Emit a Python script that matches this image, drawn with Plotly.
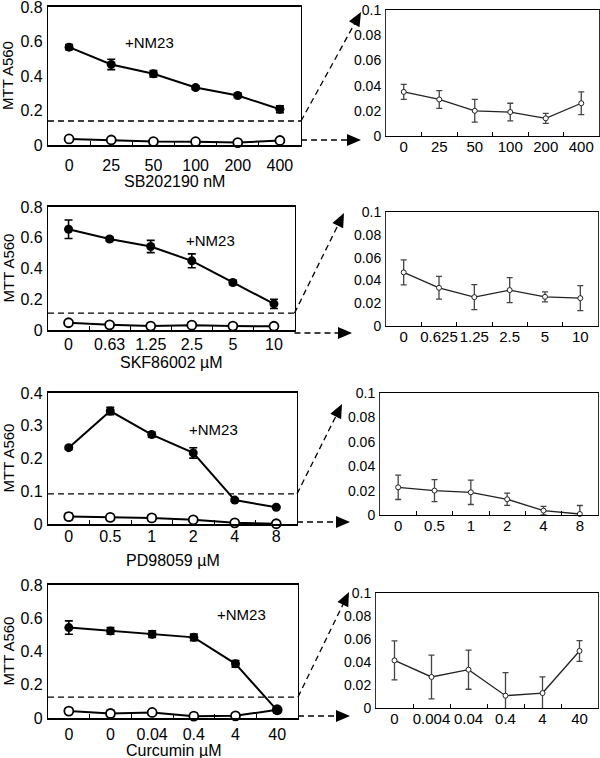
import math
import plotly.graph_objects as go

# ---------------- data ----------------
sb_labels = ["0", "25", "50", "100", "200", "400"]
sb_nm23 = [0.567, 0.467, 0.413, 0.333, 0.287, 0.207]
sb_nm23_err = [0.015, 0.03, 0.018, 0.01, 0.012, 0.02]
sb_ctrl = [0.035, 0.029, 0.020, 0.019, 0.014, 0.026]
sb_ctrl_err = [0.006, 0.007, 0.009, 0.007, 0.004, 0.009]
sb_threshold = 0.139

skf_labels_left = ["0", "0.63", "1.25", "2.5", "5", "10"]
skf_labels_right = ["0", "0.625", "1.25", "2.5", "5", "10"]
skf_nm23 = [0.655, 0.592, 0.543, 0.450, 0.309, 0.170]
skf_nm23_err = [0.06, 0.012, 0.04, 0.045, 0.015, 0.03]
skf_ctrl = [0.047, 0.0335, 0.0253, 0.0315, 0.0256, 0.0244]
skf_ctrl_err = [0.011, 0.010, 0.011, 0.011, 0.0044, 0.011]
skf_threshold = 0.11

pd_labels = ["0", "0.5", "1", "2", "4", "8"]
pd_nm23 = [0.233, 0.345, 0.273, 0.217, 0.073, 0.051]
pd_nm23_err = [0.005, 0.011, 0.008, 0.016, 0.005, 0.003]
pd_ctrl = [0.0227, 0.020, 0.0186, 0.0129, 0.0036, 0.0008]
pd_ctrl_err = [0.010, 0.009, 0.010, 0.005, 0.0035, 0.007]
pd_threshold = 0.092

cur_labels_left = ["0", "0", "0.04", "0.4", "4", "40"]
cur_labels_right = ["0", "0.004", "0.04", "0.4", "4", "40"]
cur_nm23 = [0.544, 0.524, 0.504, 0.485, 0.326, 0.046]
cur_nm23_err = [0.04, 0.02, 0.02, 0.02, 0.02, 0.015]
cur_ctrl = [0.0414, 0.027, 0.0333, 0.0107, 0.013, 0.0496]
cur_ctrl_err = [0.017, 0.019, 0.017, 0.02, 0.014, 0.009]
cur_threshold = 0.126

x_titles = ["SB202190 nM", "SKF86002 µM", "PD98059 µM", "Curcumin µM"]
y_title = "MTT A560"
nm23_label = "+NM23"

# ---------------- layout geometry (pixels) ----------------
W, H = 600, 758
FONT = "Liberation Sans, Arial, sans-serif"

rows = [
    dict(labels_l=sb_labels, labels_r=sb_labels, nm=sb_nm23, nm_e=sb_nm23_err,
         c=sb_ctrl, c_e=sb_ctrl_err, thr=sb_threshold, ymax=0.8, dt=0.2,
         L=(48, 301, 145, 7), R=(386, 599, 136, 10), xstand=5, xtitle_y=182,
         lab=(149, 42), up_tip=(361, 12), low_y=140, low_tip=361),
    dict(labels_l=skf_labels_left, labels_r=skf_labels_right, nm=skf_nm23, nm_e=skf_nm23_err,
         c=skf_ctrl, c_e=skf_ctrl_err, thr=skf_threshold, ymax=0.8, dt=0.2,
         L=(48, 294.5, 330, 207), R=(386, 598, 326, 212), xstand=-1, xtitle_y=363,
         lab=(210, 240), up_tip=(344, 213), low_y=333, low_tip=352),
    dict(labels_l=pd_labels, labels_r=pd_labels, nm=pd_nm23, nm_e=pd_nm23_err,
         c=pd_ctrl, c_e=pd_ctrl_err, thr=pd_threshold, ymax=0.4, dt=0.1,
         L=(48, 297, 524, 393), R=(380, 598, 515, 393), xstand=-3, xtitle_y=560,
         lab=(213, 429), up_tip=(342, 404), low_y=522, low_tip=350),
    dict(labels_l=cur_labels_left, labels_r=cur_labels_right, nm=cur_nm23, nm_e=cur_nm23_err,
         c=cur_ctrl, c_e=cur_ctrl_err, thr=cur_threshold, ymax=0.8, dt=0.2,
         L=(48, 298, 718, 585), R=(376, 598, 708, 593), xstand=1, xtitle_y=750,
         lab=(241, 614), up_tip=(349, 592), low_y=716, low_tip=350),
]


def px(x):
    return x / W


def py(y):
    return 1 - y / H


def ax_id(prefix, k):
    return prefix if k == 1 else f"{prefix}{k}"


fig = go.Figure()
shapes = []
annotations = []
xs = list(range(6))

for i, r in enumerate(rows):
    kl = 2 * i + 1
    kr = 2 * i + 2
    xl0, xl1, yl0, yl1 = r["L"]
    xr0, xr1, yr0, yr1 = r["R"]

    # ----- left panel traces -----
    fig.add_trace(go.Scatter(
        x=xs, y=r["c"], xaxis=ax_id("x", kl), yaxis=ax_id("y", kl), mode="lines+markers",
        line=dict(color="black", width=2),
        marker=dict(symbol="circle", size=9, color="white", line=dict(color="black", width=1.8)),
        error_y=dict(type="data", array=r["c_e"], color="black", thickness=1.5, width=4),
        showlegend=False, cliponaxis=False))
    fig.add_trace(go.Scatter(
        x=xs, y=r["nm"], xaxis=ax_id("x", kl), yaxis=ax_id("y", kl), mode="lines+markers",
        line=dict(color="black", width=2),
        marker=dict(symbol="circle", size=9, color="black"),
        error_y=dict(type="data", array=r["nm_e"], color="black", thickness=1.6, width=4),
        showlegend=False, cliponaxis=False))
    # ----- right panel traces -----
    fig.add_trace(go.Scatter(
        x=xs, y=r["c"], xaxis=ax_id("x", kr), yaxis=ax_id("y", kr), mode="lines+markers",
        line=dict(color="#222", width=1.3),
        marker=dict(symbol="circle", size=5, color="white", line=dict(color="#222", width=1)),
        error_y=dict(type="data", array=r["c_e"], color="#444", thickness=1.3, width=3),
        showlegend=False, cliponaxis=False))

    common_x = dict(range=[-0.5, 5.5], tickmode="array", tickvals=xs, showgrid=False,
                    zeroline=False, showline=True, mirror=True, linecolor="black",
                    linewidth=1, ticks="", automargin=False, tickangle=0,
                    ticklabeloverflow="allow",
                    minor=dict(tickmode="array", tickvals=[0.5, 1.5, 2.5, 3.5, 4.5],
                               ticks="inside", ticklen=4, tickcolor="black", tickwidth=1))
    common_y = dict(tick0=0, showgrid=False, zeroline=False, showline=True, mirror=True,
                    ticks="", automargin=False, ticklabelstandoff=1,
                    ticklabeloverflow="allow")
    fig.update_layout(**{
        ax_id("xaxis", kl): dict(common_x, domain=[px(xl0), px(xl1)], anchor=ax_id("y", kl),
                                 ticktext=r["labels_l"], ticklabelstandoff=r["xstand"],
                                 linewidth=1.5,
                                 tickfont=dict(family=FONT, size=16, color="black")),
        ax_id("yaxis", kl): dict(common_y, domain=[py(yl0), py(yl1)], anchor=ax_id("x", kl),
                                 range=[0, r["ymax"]], dtick=r["dt"],
                                 linecolor="black", linewidth=1.2,
                                 tickfont=dict(family=FONT, size=16, color="black")),
        ax_id("xaxis", kr): dict(common_x, domain=[px(xr0), px(xr1)], anchor=ax_id("y", kr),
                                 ticktext=r["labels_r"], ticklabelstandoff=-3,
                                 tickfont=dict(family=FONT, size=15, color="black")),
        ax_id("yaxis", kr): dict(common_y, domain=[py(yr0), py(yr1)], anchor=ax_id("x", kr),
                                 range=[0, 0.1], dtick=0.02,
                                 linecolor="#333", linewidth=1,
                                 tickfont=dict(family=FONT, size=14, color="black")),
    })

    # threshold dashed line in left panel
    shapes.append(dict(type="line", xref=ax_id("x", kl) + " domain", yref=ax_id("y", kl),
                       x0=0, x1=1, y0=r["thr"], y1=r["thr"],
                       line=dict(color="black", width=1.3, dash="6px,4px")))
    thr_px = yl0 - r["thr"] / r["ymax"] * (yl0 - yl1)

    # diagonal arrow to zoomed panel (upper) and horizontal arrow (lower)
    arrows = [((xl1, thr_px), r["up_tip"]), ((xl1, r["low_y"]), (r["low_tip"], r["low_y"]))]
    for (sx, sy), (tx, ty) in arrows:
        dx, dy = tx - sx, ty - sy
        n = math.hypot(dx, dy)
        ux, uy = dx / n, dy / n
        Lh, Wh = 14, 6
        bx, by = tx - ux * Lh, ty - uy * Lh
        shapes.append(dict(type="line", xref="paper", yref="paper",
                           x0=px(sx), y0=py(sy), x1=px(bx + ux * 2), y1=py(by + uy * 2),
                           line=dict(color="black", width=1.3, dash="6px,4px")))
        p1 = (bx - uy * Wh, by + ux * Wh)
        p2 = (bx + uy * Wh, by - ux * Wh)
        path = (f"M {px(tx)} {py(ty)} L {px(p1[0])} {py(p1[1])} "
                f"L {px(p2[0])} {py(p2[1])} Z")
        shapes.append(dict(type="path", xref="paper", yref="paper", path=path,
                           fillcolor="black", line=dict(width=0)))

    # texts
    annotations.append(dict(text=nm23_label, xref="paper", yref="paper",
                            x=px(r["lab"][0]), y=py(r["lab"][1]), showarrow=False,
                            xanchor="center", yanchor="middle",
                            font=dict(family=FONT, size=15, color="black")))
    annotations.append(dict(text=x_titles[i], xref="paper", yref="paper",
                            x=px((xl0 + xl1) / 2), y=py(r["xtitle_y"]), showarrow=False,
                            xanchor="center", yanchor="middle",
                            font=dict(family=FONT, size=16, color="black")))
    annotations.append(dict(text=y_title, xref="paper", yref="paper", textangle=-90,
                            x=px(8), y=py((yl0 + yl1) / 2), showarrow=False,
                            xanchor="center", yanchor="middle",
                            font=dict(family=FONT, size=15, color="black")))

fig.update_layout(width=W, height=H, margin=dict(l=0, r=0, t=0, b=0),
                  plot_bgcolor="white", paper_bgcolor="white",
                  shapes=shapes, annotations=annotations, showlegend=False)

fig.write_html("out.html", config={"displayModeBar": False},
               post_script="document.body.style.margin='0';"
                           "document.body.style.overflow='hidden';")
